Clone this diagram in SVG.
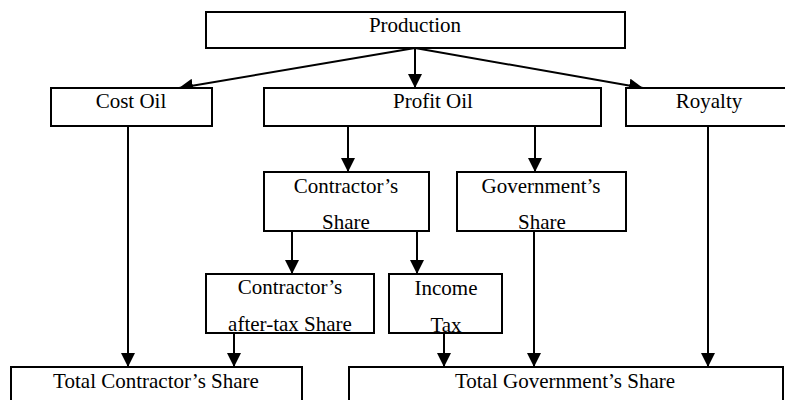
<svg xmlns="http://www.w3.org/2000/svg" width="785" height="400" viewBox="0 0 785 400">
  <style>
    .box { fill: #fff; stroke: #000; stroke-width: 2; }
    .lbl { font-family: "Liberation Serif", "Times New Roman", serif; font-size: 21px; fill: #000; text-anchor: middle; }
    .edge { stroke: #000; stroke-width: 2; fill: none; marker-end: url(#arrow); }
  </style>
  <defs>
    <marker id="arrow" markerUnits="userSpaceOnUse" viewBox="0 0 14 14" refX="14" refY="7" markerWidth="14" markerHeight="14" orient="auto">
      <path d="M0,0 L14,7 L0,14 z" fill="#000"/>
    </marker>
  </defs>
  <rect width="785" height="400" fill="#fff"/>

  <!-- connectors -->
  <g id="connectors">
    <line class="edge" x1="415" y1="48" x2="179" y2="88"/>
    <line class="edge" x1="415" y1="48" x2="415" y2="88"/>
    <line class="edge" x1="415" y1="48" x2="643" y2="88"/>
    <line class="edge" x1="128" y1="126" x2="128" y2="367"/>
    <line class="edge" x1="348" y1="126" x2="348" y2="172"/>
    <line class="edge" x1="535" y1="126" x2="535" y2="172"/>
    <line class="edge" x1="708" y1="126" x2="708" y2="367"/>
    <line class="edge" x1="292" y1="231" x2="292" y2="274"/>
    <line class="edge" x1="417" y1="231" x2="417" y2="274"/>
    <line class="edge" x1="534" y1="231" x2="534" y2="367"/>
    <line class="edge" x1="234" y1="333" x2="234" y2="367"/>
    <line class="edge" x1="444" y1="333" x2="444" y2="367"/>
  </g>

  <!-- nodes -->
  <g id="production">
    <rect class="box" x="206" y="12" width="419" height="36"/>
    <text class="lbl" x="415" y="32">Production</text>
  </g>
  <g id="cost-oil">
    <rect class="box" x="51" y="88" width="161" height="38"/>
    <text class="lbl" x="131" y="108">Cost Oil</text>
  </g>
  <g id="profit-oil">
    <rect class="box" x="264" y="88" width="337" height="38"/>
    <text class="lbl" x="433" y="108">Profit Oil</text>
  </g>
  <g id="royalty">
    <rect class="box" x="626" y="88" width="170" height="38"/>
    <text class="lbl" x="709" y="108">Royalty</text>
  </g>
  <g id="contractor-share">
    <rect class="box" x="264" y="172" width="165" height="59"/>
    <text class="lbl" x="346" y="193">Contractor’s</text>
    <text class="lbl" x="346" y="229">Share</text>
  </g>
  <g id="government-share">
    <rect class="box" x="457" y="172" width="169" height="59"/>
    <text class="lbl" x="541" y="193">Government’s</text>
    <text class="lbl" x="542" y="229">Share</text>
  </g>
  <g id="after-tax-share">
    <rect class="box" x="206" y="274" width="168" height="59"/>
    <text class="lbl" x="290" y="294">Contractor’s</text>
    <text class="lbl" x="290" y="331">after-tax Share</text>
  </g>
  <g id="income-tax">
    <rect class="box" x="389" y="274" width="113" height="59"/>
    <text class="lbl" x="446" y="295">Income</text>
    <text class="lbl" x="446" y="332">Tax</text>
  </g>
  <g id="total-contractor">
    <rect class="box" x="11" y="367" width="291" height="40"/>
    <text class="lbl" x="156" y="388">Total Contractor’s Share</text>
  </g>
  <g id="total-government">
    <rect class="box" x="349" y="367" width="434" height="40"/>
    <text class="lbl" x="565" y="388">Total Government’s Share</text>
  </g>
</svg>
